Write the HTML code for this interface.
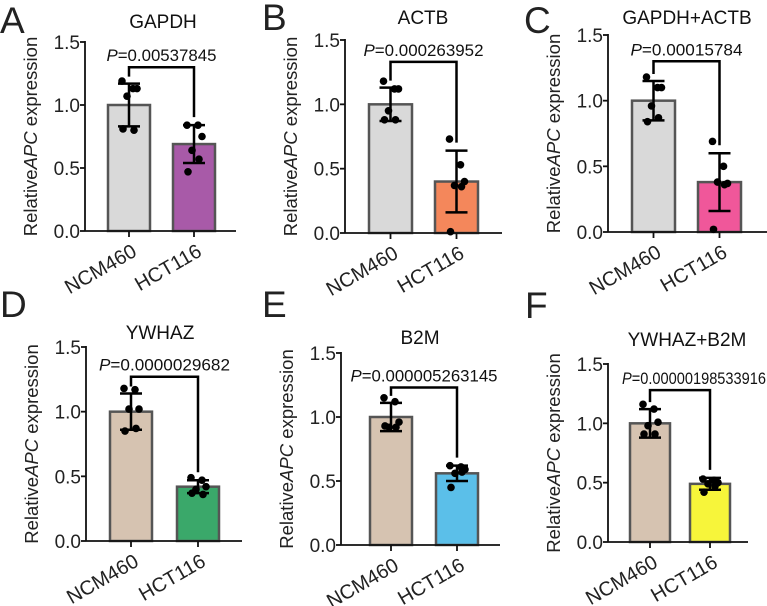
<!DOCTYPE html>
<html><head><meta charset="utf-8"><style>
html,body{margin:0;padding:0;background:#fff;}
svg{display:block;font-family:"Liberation Sans",Arial,sans-serif;}
</style></head><body>
<svg id="fig" width="767" height="606" viewBox="0 0 767 606" xmlns="http://www.w3.org/2000/svg"></svg>
<script>
const categories = ["NCM460","HCT116"];
const panelLetters = ["A","B","C","D","E","F"];
const panelTitles = ["GAPDH","ACTB","GAPDH+ACTB","YWHAZ","B2M","YWHAZ+B2M"];
const pValues = ["=0.00537845","=0.000263952","=0.00015784","=0.0000029682","=0.000005263145","=0.00000198533916"];
const yTicks = [0,0.5,1.0,1.5];
const yTickLabels = ["0.0","0.5","1.0","1.5"];
const meansNCM = [1.0,1.0,1.0,1.0,1.0,1.0];
const meansHCT = [0.69,0.40,0.38,0.42,0.56,0.49];
const sdNCM = [0.17,0.13,0.15,0.14,0.11,0.12];
const sdHCT = [0.15,0.24,0.22,0.05,0.06,0.05];
const pointsNCM = [
 [1.19,1.13,1.13,1.07,0.80,0.81],
 [1.18,1.12,1.12,0.95,0.88,0.88],
 [1.18,1.10,1.10,0.96,0.87,0.84],
 [1.18,1.17,1.02,1.02,0.87,0.85],
 [1.15,1.12,0.96,0.92,0.92,0.93],
 [1.16,1.12,1.01,0.98,0.91,0.91]];
const pointsHCT = [
 [0.84,0.84,0.75,0.64,0.57,0.47],
 [0.73,0.53,0.40,0.37,0.36,0.01],
 [0.69,0.50,0.37,0.38,0.36,0.02],
 [0.49,0.47,0.42,0.40,0.36,0.37],
 [0.62,0.61,0.59,0.56,0.57,0.45],
 [0.53,0.52,0.50,0.49,0.47,0.42]];
const bracketVals = [1.30,1.33,1.30,1.27,1.23,1.28];
const colorsNCM = ["#d9d9d9","#d9d9d9","#d9d9d9","#d6c3b1","#d6c3b1","#d6c3b1"];
const colorsHCT = ["#a85aa8","#f4875b","#f0579a","#3aa86a","#5bbfe9","#f7f53a"];
// layout
const L = [
 {ox:85,y0:231,y15:42,b1:108,b2:173,bw:42,end:236,tx:163,ty:28,lx:0,ly:33,pw:110},
 {ox:345,y0:233,y15:40,b1:369,b2:435,bw:43,end:502,tx:423,ty:24,lx:262,ly:30,pw:120},
 {ox:608,y0:232,y15:35,b1:632,b2:698,bw:43,end:767,tx:687,ty:24,lx:524,ly:33,pw:112},
 {ox:86,y0:541,y15:347,b1:110,b2:177,bw:42,end:242,tx:160,ty:339,lx:0,ly:317,pw:131},
 {ox:341,y0:545,y15:353,b1:370,b2:436,bw:42,end:500,tx:420,ty:344,lx:262,ly:317,pw:147},
 {ox:608,y0:542,y15:364,b1:630,b2:690,bw:40,end:748,tx:687,ty:346,lx:525,ly:318,pw:144,px:622}];
const jit = [-7,4,8,-2,5,-6];
const NS="http://www.w3.org/2000/svg";
const svg=document.getElementById('fig');
function mk(tag,attrs,parent){const e=document.createElementNS(NS,tag);for(const k in attrs)e.setAttribute(k,attrs[k]);(parent||svg).appendChild(e);return e;}
for(let i=0;i<6;i++){
  const p=L[i];
  const g=mk('g',{});
  
  
  const Y=v=>p.y0-(p.y0-p.y15)*v/1.5;
  const lt=mk('text',{x:p.lx,y:p.ly,'font-size':37,fill:'#222'},g);lt.textContent=panelLetters[i];
  
  
  const t=mk('text',{x:p.tx,y:p.ty,'font-size':19,'text-anchor':'middle',fill:'#111'},g);t.textContent=panelTitles[i];
  
  
  const bars=[[p.b1,meansNCM[i],colorsNCM[i],sdNCM[i],pointsNCM[i]],[p.b2,meansHCT[i],colorsHCT[i],sdHCT[i],pointsHCT[i]]];
  bars.forEach((b,j)=>{
    const r=mk('rect',{x:b[0],y:Y(b[1]),width:p.bw,height:p.y0-Y(b[1]),fill:b[2],stroke:'#555','stroke-width':2.5},g);
    
    
  });
  const ya=mk('line',{x1:p.ox,y1:p.y0,x2:p.ox,y2:p.y15-1,stroke:'#111','stroke-width':1.8},g);
  
  
  const xa=mk('line',{x1:p.ox,y1:p.y0,x2:p.end,y2:p.y0,stroke:'#111','stroke-width':1.8},g);
  
  
  yTicks.forEach((v,k)=>{
    mk('line',{x1:p.ox-5,y1:Y(v),x2:p.ox,y2:Y(v),stroke:'#111','stroke-width':1.8},g);
    const tl=mk('text',{x:p.ox-5,y:Y(v)+7,'font-size':19,'text-anchor':'end',fill:'#222'},g);tl.textContent=yTickLabels[k];
    
    
  });
  const yl=mk('text',{x:0,y:0,'font-size':18.5,'text-anchor':'middle',fill:'#222',transform:`translate(${p.ox-48},${(p.y0+p.y15)/2}) rotate(-90)`},g);
  yl.innerHTML='Relative<tspan font-style="italic">APC</tspan> expression';
  
  
  bars.forEach((b,j)=>{
    const cx=b[0]+p.bw/2;
    mk('line',{x1:cx,y1:p.y0,x2:cx,y2:p.y0+6,stroke:'#111','stroke-width':1.8},g);
    const xl=mk('text',{x:0,y:0,'font-size':20,'text-anchor':'end',fill:'#222',transform:`translate(${cx+9},${p.y0+24}) rotate(-30)`},g);
    xl.textContent=categories[j];
    
    
    b[4].forEach((v,k)=>{
      const d=mk('circle',{cx:cx+jit[k],cy:Y(v),r:3.8,fill:'#000'},g);
      
      
    });
    const lo=Y(b[1]-b[3]),hi=Y(b[1]+b[3]);
    const eb=mk('path',{d:`M${cx},${lo}V${hi}M${cx-11},${lo}H${cx+11}M${cx-11},${hi}H${cx+11}`,stroke:'#000','stroke-width':2.5,fill:'none'},g);
    
    
  });
  const c1=p.b1+p.bw/2,c2=p.b2+p.bw/2,by=Y(bracketVals[i]);
  const l1=Y(meansNCM[i]+sdNCM[i])-7,l2=Y(meansHCT[i]+sdHCT[i])-8;
  const br=mk('path',{d:`M${c1},${Math.max(l1,by+8)}V${by}H${c2}V${l2}`,stroke:'#000','stroke-width':2.5,fill:'none'},g);
  
  
  const px = p.px!==undefined ? p.px : (c1+c2)/2 - p.pw/2;
  const pt=mk('text',{x:px,y:by-6,'font-size':17,'text-anchor':'start',textLength:p.pw,lengthAdjust:'spacingAndGlyphs',fill:'#111'},g);
  pt.innerHTML='<tspan font-style="italic">P</tspan>'+pValues[i];
  
  
}
</script>
</body></html>
